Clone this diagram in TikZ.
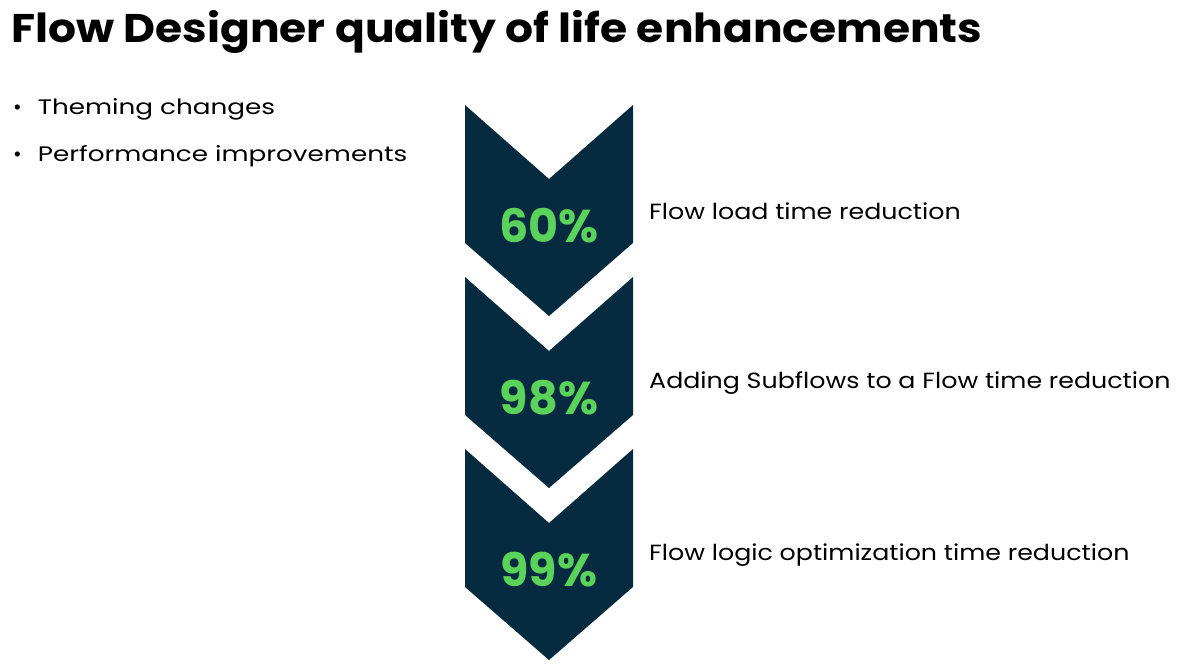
\documentclass[tikz,border=0pt]{standalone}
\usepackage{graphicx}
\usepackage{fontspec}
\setmainfont{Poppins}
\definecolor{navy}{HTML}{062B41}
\definecolor{grn}{HTML}{5BD35B}
\begin{document}
\begin{tikzpicture}[x=1pt,y=-1pt,
  chev/.style={fill=navy},
  pct/.style={text=grn,font=\fontsize{46}{48}\selectfont\bfseries},
  lbl/.style={anchor=west,font=\fontsize{22}{24}\selectfont,text=black,inner sep=0},
  bul/.style={anchor=west,font=\fontsize{21}{24}\selectfont,inner sep=0}]
\useasboundingbox (0,0) rectangle (1200,666);
\node[anchor=west,font=\fontsize{40}{44}\selectfont\bfseries,inner sep=0] (title) at (11,32) {\scalebox{1.1}[1]{Flow Designer quality of life enhancements}};
\node[bul] (b1) at (13,109) {\textbullet\hspace{16pt}\scalebox{1.25}[1]{Theming changes}};
\node[bul] (b2) at (13,156) {\textbullet\hspace{16pt}\scalebox{1.25}[1]{Performance improvements}};
\foreach \i/\p/\t in {0/60/Flow load time reduction,1/98/Adding Subflows to a Flow time reduction,2/99/Flow logic optimization time reduction}{
  \begin{scope}[yshift=-172*\i]
  \fill[chev] (465,105) -- (549,179) -- (633,105) -- (633,243) -- (549,316) -- (465,243) -- cycle;
  \node[pct] (p\i) at (549,226) {\p\%};
  \node[lbl] (l\i) at (649,211) {\scalebox{1.15}[1]{\t}};
  \end{scope}
}
\end{tikzpicture}
\end{document}
